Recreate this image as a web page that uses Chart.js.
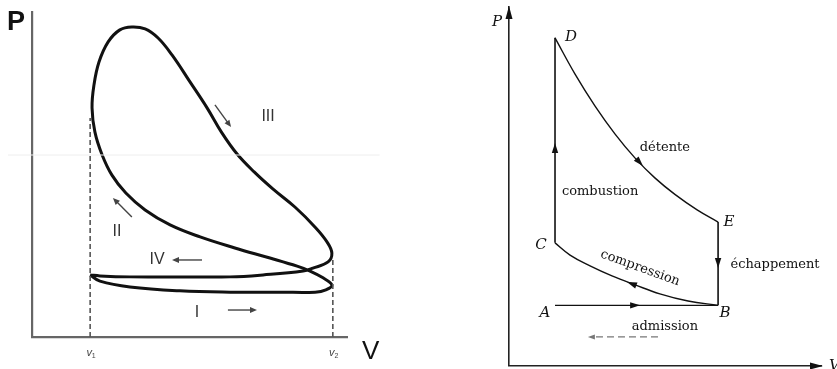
<!DOCTYPE html>
<html><head><meta charset="utf-8">
<script src="https://cdn.jsdelivr.net/npm/chart.js@4.4.1/dist/chart.umd.min.js"></script>
<style>
html,body{margin:0;padding:0;background:#fff;}
#wrap{position:relative;width:837px;height:369px;overflow:hidden;background:#fff;}
canvas{position:absolute;top:0;}
#c1{left:0;} #c2{left:470px;}
</style></head><body>
<div id="wrap"><canvas id="c1" width="420" height="369"></canvas><canvas id="c2" width="367" height="369"></canvas></div>
<script>
// ---------- LEFT: real four-stroke cycle (figure-eight), arbitrary units 0..10 ----------
const cycleV = [1.84, 2.15, 3.10, 4.68, 6.27, 7.85, 8.96, 9.30, 9.49,
                9.21, 8.80, 8.39, 7.53, 6.42, 5.32, 4.37, 3.58, 2.97, 2.53, 2.22, 1.99, 1.90, 1.96, 2.12, 2.41, 2.78, 3.16,
                3.58, 3.99, 4.43, 5.00, 5.54, 6.01, 6.49, 7.03, 7.63, 8.32, 8.96, 9.34, 9.49,
                9.37, 8.89, 8.58, 7.31, 6.27, 4.68, 3.10, 2.15, 1.84];
const cycleP = [1.91, 1.72, 1.54, 1.42, 1.38, 1.38, 1.38, 1.45, 1.60,
                1.82, 2.03, 2.18, 2.43, 2.74, 3.08, 3.45, 3.91, 4.43, 4.98, 5.60, 6.31, 7.05, 7.75, 8.46, 9.08, 9.45, 9.54,
                9.48, 9.20, 8.68, 7.85, 7.05, 6.28, 5.63, 5.08, 4.55, 4.00, 3.38, 2.92, 2.58,
                2.31, 2.12, 2.03, 1.91, 1.85, 1.85, 1.85, 1.88, 1.91];
const volumeMarks = ['v1', 'v2'];
const volumeMarkV = [1.84, 9.52];
const volumeMarkTopP = [6.74, 2.37];
const strokeNames = ['I', 'II', 'III', 'IV'];
const scanLineP = 5.60;

// ---------- RIGHT: ideal Beau de Rochas cycle ----------
const stateNames = ['A', 'B', 'C', 'D', 'E'];
const stateV = [1.47, 6.68, 1.47, 1.47, 6.68];
const stateP = [1.69, 1.69, 3.43, 9.14, 4.01];
const expansionV = [1.47, 2.11, 2.75, 3.39, 4.03, 4.66, 5.30, 6.01, 6.68];
const expansionP = [9.14, 8.13, 7.24, 6.46, 5.79, 5.24, 4.78, 4.35, 4.01];
const compressionV = [1.47, 1.95, 2.59, 3.29, 4.03, 4.82, 5.72, 6.68];
const compressionP = [3.43, 3.09, 2.79, 2.51, 2.26, 2.01, 1.81, 1.69];
const phaseNames = ['détente', 'combustion', 'compression', 'échappement', 'admission'];

// ---------- annotation layout (positions in data units) ----------
const leftTexts = [
  {t: 'P', v: -0.51, p: 9.69, font: 'bold 27px "Liberation Sans"', color: '#111'},
  {t: 'V', v: 10.72, p: -0.46, font: '26px "Liberation Sans"', color: '#111'},
  {t: strokeNames[2], v: 7.47, p: 6.77, font: '16px "Liberation Sans"', color: '#333'},
  {t: strokeNames[1], v: 2.69, p: 3.23, font: '16px "Liberation Sans"', color: '#333'},
  {t: strokeNames[3], v: 3.96, p: 2.37, font: '16px "Liberation Sans"', color: '#333'},
  {t: strokeNames[0], v: 5.22, p: 0.74, font: '16px "Liberation Sans"', color: '#333'}
];
const leftArrows = [
  [5.79, 7.14, 6.30, 6.46],
  [3.16, 3.69, 2.56, 4.28],
  [5.38, 2.37, 4.43, 2.37],
  [6.20, 0.83, 7.12, 0.83]
];
const rightTexts = [
  {t: 'P', v: -0.38, p: 9.58, font: 'italic 15px "DejaVu Serif"'},
  {t: stateNames[3], v: 1.98, p: 9.16, font: 'italic 15px "DejaVu Serif"'},
  {t: stateNames[2], v: 1.02, p: 3.37, font: 'italic 15px "DejaVu Serif"'},
  {t: stateNames[4], v: 7.03, p: 4.01, font: 'italic 15px "DejaVu Serif"'},
  {t: stateNames[1], v: 6.90, p: 1.48, font: 'italic 15px "DejaVu Serif"'},
  {t: stateNames[0], v: 1.15, p: 1.48, font: 'italic 15px "DejaVu Serif"'},
  {t: phaseNames[0], v: 4.98, p: 6.07, font: '13px "DejaVu Serif"'},
  {t: phaseNames[1], v: 2.91, p: 4.85, font: '13px "DejaVu Serif"'},
  {t: phaseNames[2], v: 4.19, p: 2.73, font: '13px "DejaVu Serif"', rot: 20},
  {t: phaseNames[3], v: 8.50, p: 2.81, font: '13px "DejaVu Serif"'},
  {t: phaseNames[4], v: 4.98, p: 1.11, font: '13px "DejaVu Serif"'},
  {t: 'V', v: 10.22, p: 0.0, font: 'italic 15px "DejaVu Serif"', align: 'left'}
];
const rightHeads = [
  [1.47, 6.21, 1.47, 7.00],
  [4.28, 5.57, 4.92, 4.96],
  [6.68, 2.73, 6.68, 2.00],
  [3.77, 2.34, 3.00, 2.60],
  [4.19, 1.69, 5.00, 1.69]
];
const dashedArrow = [4.76, 0.81, 2.52, 0.81];

function head(ctx, x, y, ux, uy, L, W) {
  ctx.beginPath();
  ctx.moveTo(x, y);
  ctx.lineTo(x - L * ux - W * uy, y - L * uy + W * ux);
  ctx.lineTo(x - L * ux + W * uy, y - L * uy - W * ux);
  ctx.closePath();
  ctx.fill();
}
function px(chart, v, p) { return [chart.scales.x.getPixelForValue(v), chart.scales.y.getPixelForValue(p)]; }

const leftDeco = {
  id: 'leftDeco',
  afterDatasetsDraw(chart) {
    const ctx = chart.ctx;
    ctx.save();
    ctx.textAlign = 'center'; ctx.textBaseline = 'middle';
    leftTexts.forEach(o => {
      const [x, y] = px(chart, o.v, o.p);
      ctx.font = o.font; ctx.fillStyle = o.color; ctx.fillText(o.t, x, y);
    });
    volumeMarks.forEach((m, i) => {
      const [x, y] = px(chart, volumeMarkV[i], -0.52);
      ctx.fillStyle = '#444';
      ctx.font = 'italic 11px "Liberation Sans"';
      ctx.fillText(m[0], x - 1, y - 1);
      ctx.font = '7px "Liberation Sans"';
      ctx.fillText(m[1], x + 3.5, y + 2);
    });
    ctx.strokeStyle = '#444'; ctx.fillStyle = '#444'; ctx.lineWidth = 1.4;
    leftArrows.forEach(a => {
      const [x1, y1] = px(chart, a[0], a[1]);
      const [x2, y2] = px(chart, a[2], a[3]);
      const d = Math.hypot(x2 - x1, y2 - y1), ux = (x2 - x1) / d, uy = (y2 - y1) / d;
      ctx.beginPath(); ctx.moveTo(x1, y1); ctx.lineTo(x2 - 4 * ux, y2 - 4 * uy); ctx.stroke();
      head(ctx, x2, y2, ux, uy, 7, 3);
    });
    ctx.restore();
  }
};

const rightDeco = {
  id: 'rightDeco',
  afterDatasetsDraw(chart) {
    const ctx = chart.ctx;
    const a = chart.chartArea;
    ctx.save();
    ctx.fillStyle = '#111';
    head(ctx, a.left, a.top - 1, 0, -1, 13, 3.5);
    head(ctx, a.right + 1, a.bottom, 1, 0, 13, 3.5);
    rightHeads.forEach(h => {
      const [x1, y1] = px(chart, h[0], h[1]);
      const [x2, y2] = px(chart, h[2], h[3]);
      const d = Math.hypot(x2 - x1, y2 - y1);
      head(ctx, x1, y1, (x2 - x1) / d, (y2 - y1) / d, 10, 3.2);
    });
    const [x1, y1] = px(chart, dashedArrow[0], dashedArrow[1]);
    const [x2, y2] = px(chart, dashedArrow[2], dashedArrow[3]);
    ctx.strokeStyle = '#777'; ctx.fillStyle = '#777'; ctx.lineWidth = 1.3;
    ctx.setLineDash([7, 4]);
    ctx.beginPath(); ctx.moveTo(x1, y1); ctx.lineTo(x2 + 5, y2); ctx.stroke();
    ctx.setLineDash([]);
    head(ctx, x2, y2, -1, 0, 7, 2.5);
    ctx.fillStyle = '#111'; ctx.textBaseline = 'middle';
    rightTexts.forEach(o => {
      const [x, y] = px(chart, o.v, o.p);
      ctx.font = o.font; ctx.textAlign = o.align || 'center';
      if (o.rot) {
        ctx.save(); ctx.translate(x, y); ctx.rotate(o.rot * Math.PI / 180); ctx.fillText(o.t, 0, 0); ctx.restore();
      } else ctx.fillText(o.t, x, y);
    });
    ctx.restore();
  }
};

function pts(xs, ys) { return xs.map((x, i) => ({x: x, y: ys[i]})); }
function axis(color, width) {
  return {
    type: 'linear', min: 0, max: 10,
    grid: {display: false, lineWidth: 0},
    ticks: {display: false},
    border: {display: true, color: color, width: width}
  };
}
function baseOptions(pad, axColor, axWidth) {
  const x = axis(axColor, axWidth), y = axis(axColor, axWidth);
  x.afterFit = s => { s.height = 0; };
  y.afterFit = s => { s.width = 0; };
  return {
    responsive: false, animation: false, devicePixelRatio: 1, events: [],
    layout: {padding: pad},
    plugins: {legend: {display: false}, tooltip: {enabled: false}},
    elements: {point: {radius: 0}},
    scales: {x: x, y: y}
  };
}

const leftData = [
  {data: [{x: -0.76, y: scanLineP}, {x: 11.0, y: scanLineP}], borderColor: '#eeeeee', borderWidth: 1, showLine: true, clip: false},
  {data: [{x: volumeMarkV[0], y: 0}, {x: volumeMarkV[0], y: volumeMarkTopP[0]}], borderColor: '#555', borderWidth: 1.6, borderDash: [5, 3], showLine: true},
  {data: [{x: volumeMarkV[1], y: 0}, {x: volumeMarkV[1], y: volumeMarkTopP[1]}], borderColor: '#555', borderWidth: 1.6, borderDash: [5, 3], showLine: true},
  {data: pts(cycleV, cycleP), borderColor: '#111', borderWidth: 3, showLine: true, tension: 0.4}
];
new Chart(document.getElementById('c1'), {
  type: 'scatter',
  data: {datasets: leftData},
  options: baseOptions({left: 32, right: 72, top: 12, bottom: 32}, '#666', 2.2),
  plugins: [leftDeco]
});

const rightData = [
  {data: [{x: stateV[0], y: stateP[0]}, {x: stateV[1], y: stateP[1]}], borderColor: '#111', borderWidth: 1.4, showLine: true},
  {data: pts(compressionV, compressionP), borderColor: '#111', borderWidth: 1.4, showLine: true, tension: 0.4},
  {data: [{x: stateV[2], y: stateP[2]}, {x: stateV[3], y: stateP[3]}], borderColor: '#111', borderWidth: 1.6, showLine: true},
  {data: pts(expansionV, expansionP), borderColor: '#111', borderWidth: 1.4, showLine: true, tension: 0.4},
  {data: [{x: stateV[4], y: stateP[4]}, {x: stateV[1], y: stateP[1]}], borderColor: '#111', borderWidth: 1.6, showLine: true}
];
new Chart(document.getElementById('c2'), {
  type: 'scatter',
  data: {datasets: rightData},
  options: baseOptions({left: 39, right: 15, top: 7, bottom: 3}, '#222', 1.6),
  plugins: [rightDeco]
});
</script>
</body></html>
